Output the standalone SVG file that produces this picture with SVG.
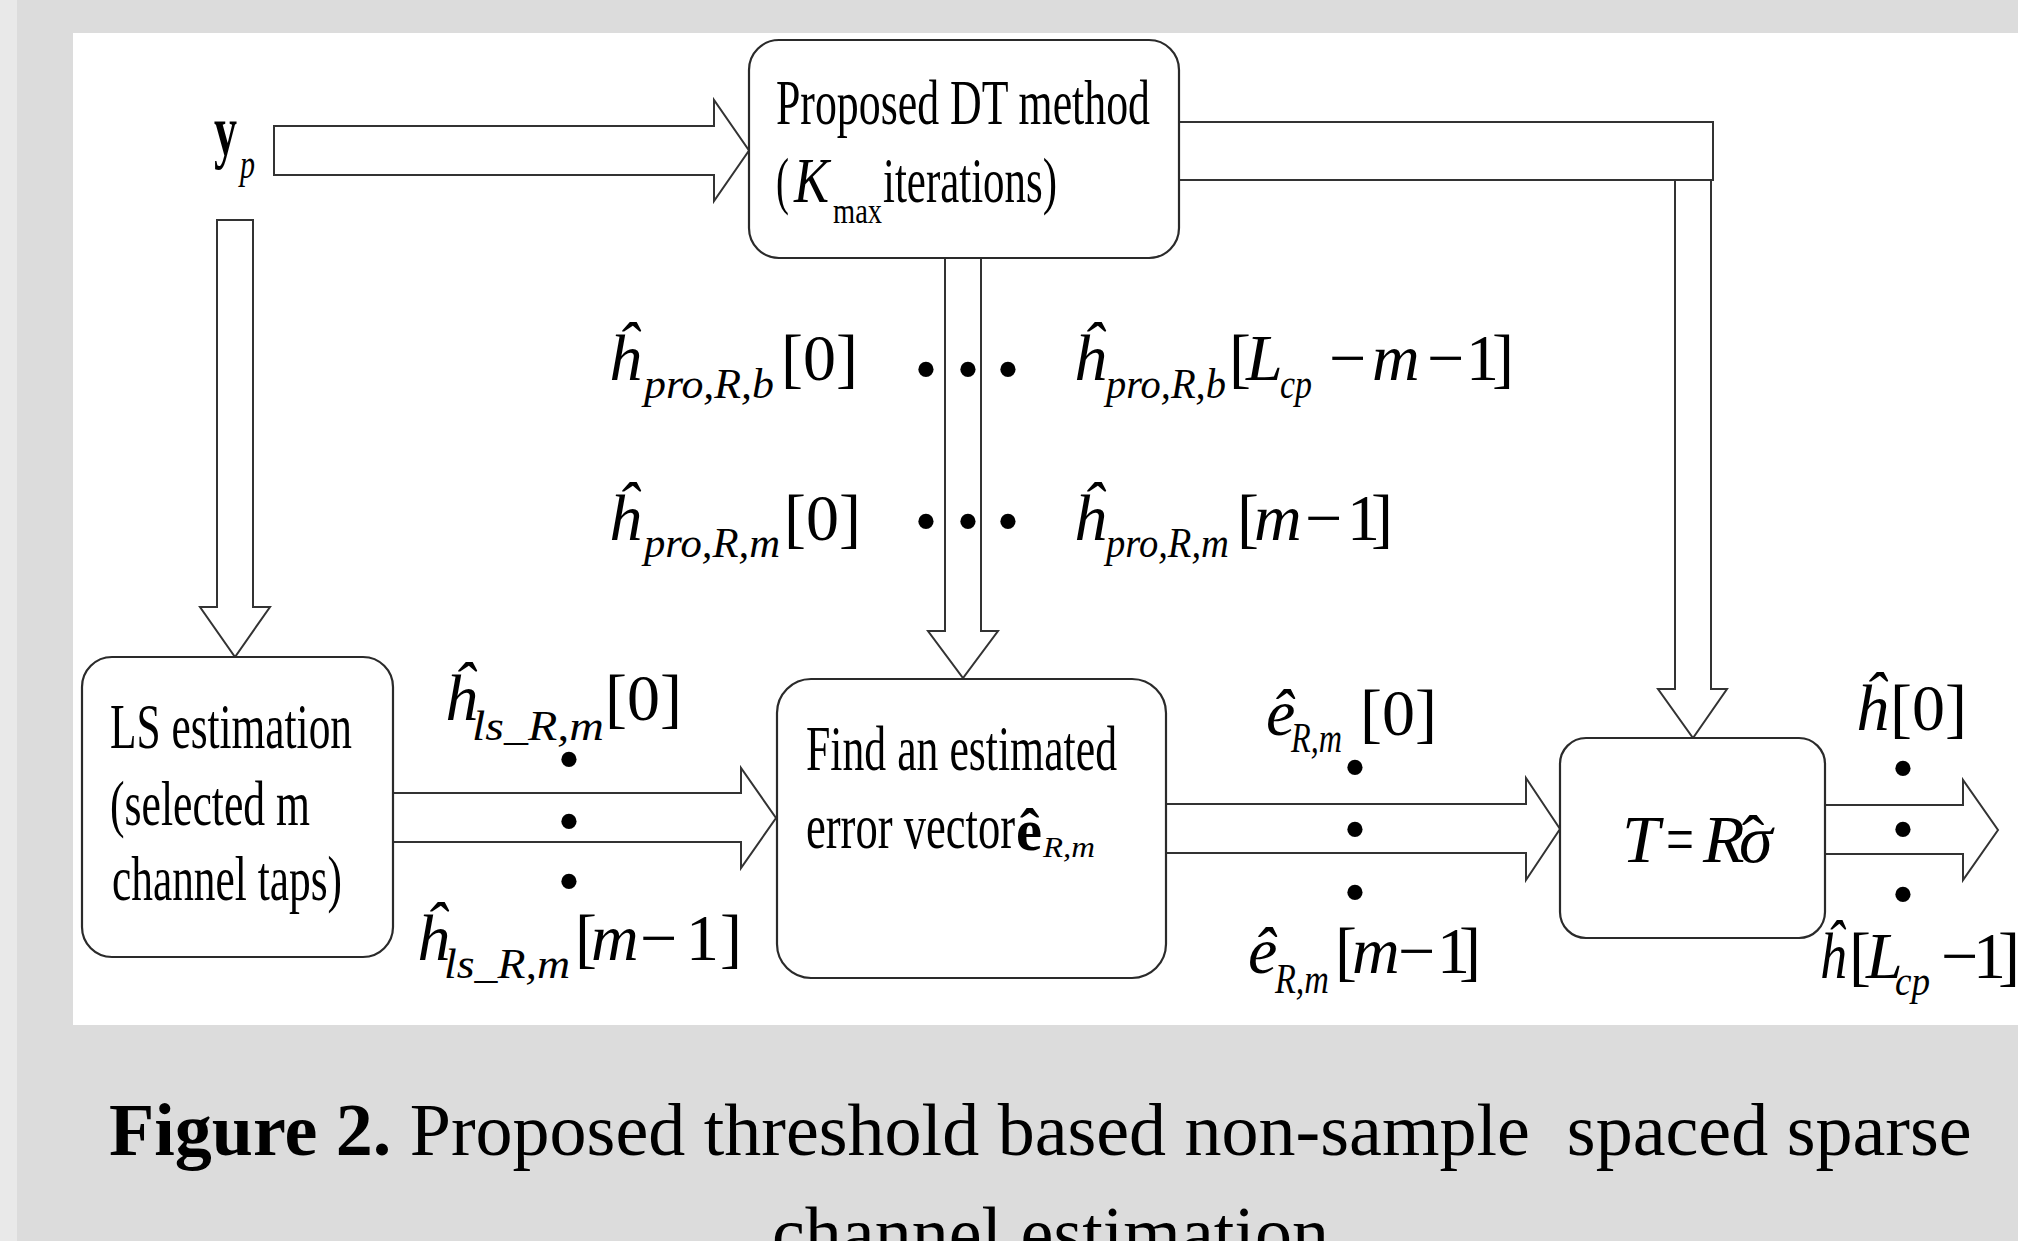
<svg xmlns="http://www.w3.org/2000/svg" width="2018" height="1241" viewBox="0 0 2018 1241">
<style>
.box{fill:#fff;stroke:#2a2a2a;stroke-width:2.2}
.arr{fill:#fff;stroke:#333;stroke-width:2}
.t{font-family:"Liberation Serif","Times New Roman",serif;fill:#000}
.it{font-style:italic}
.m{font-size:66px}
.s{font-size:42px}
.lb{font-size:63px}
.dot{font-size:64px;text-anchor:middle}
.cap{font-size:74px}
</style>
<rect x="0" y="0" width="2018" height="1241" fill="#dcdcdc"/>
<rect x="0" y="0" width="17" height="1241" fill="#e9e9e9"/>
<rect x="73" y="33" width="1945" height="992" fill="#fff"/>

<g id="connectors">
  <polygon class="arr" points="274,126 714,126 714,100 749,150.5 714,201 714,175 274,175"/>
  <polygon class="arr" points="217,220 253,220 253,607 270,607 235,657 200,607 217,607"/>
  <polygon class="arr" points="945,258 981,258 981,631 998,631 963,678 928,631 945,631"/>
  <rect class="arr" x="1179" y="122" width="534" height="58"/>
  <polygon class="arr" points="1675,180 1711,180 1711,689 1727,689 1693,738 1658,689 1675,689"/>
  <polygon class="arr" points="392,793 741,793 741,768 776,818 741,868 741,842 392,842"/>
  <polygon class="arr" points="1166,804 1526,804 1526,778 1560,829 1526,880 1526,853 1166,853"/>
  <polygon class="arr" points="1825,805 1963,805 1963,780 1998,830 1963,880 1963,854 1825,854"/>
</g>

<g id="node-dt">
  <rect class="box" x="749" y="40" width="430" height="218" rx="30"/>
  <text class="t lb" x="776" y="124" textLength="374" lengthAdjust="spacingAndGlyphs">Proposed DT method</text>
  <text class="t lb" x="776" y="202" textLength="13" lengthAdjust="spacingAndGlyphs">(</text>
  <text class="t lb it" x="794" y="202" textLength="35" lengthAdjust="spacingAndGlyphs">K</text>
  <text class="t" font-size="36" x="833" y="223" textLength="49" lengthAdjust="spacingAndGlyphs">max</text>
  <text class="t lb" x="883" y="202" textLength="174" lengthAdjust="spacingAndGlyphs">iterations)</text>
</g>

<g id="node-ls">
  <rect class="box" x="82" y="657" width="311" height="300" rx="30"/>
  <text class="t lb" x="110" y="748" textLength="242" lengthAdjust="spacingAndGlyphs">LS estimation</text>
  <text class="t lb" x="110" y="825" textLength="200" lengthAdjust="spacingAndGlyphs">(selected m</text>
  <text class="t lb" x="112" y="900" textLength="230" lengthAdjust="spacingAndGlyphs">channel taps)</text>
</g>

<g id="node-find">
  <rect class="box" x="777" y="679" width="389" height="299" rx="34"/>
  <text class="t lb" x="806" y="770" textLength="311" lengthAdjust="spacingAndGlyphs">Find an estimated</text>
  <text class="t lb" x="806" y="848" textLength="209" lengthAdjust="spacingAndGlyphs">error vector</text>
  <text class="t" font-size="60" font-weight="bold" x="1016" y="850" textLength="26" lengthAdjust="spacingAndGlyphs">ê</text>
  <text class="t it" font-size="30" x="1043" y="857" textLength="52" lengthAdjust="spacingAndGlyphs">R,m</text>
</g>

<g id="node-t">
  <rect class="box" x="1560" y="738" width="265" height="200" rx="26"/>
  <text class="t it" font-size="68" x="1622" y="862">T</text>
  <text class="t" font-size="68" x="1666" y="862" textLength="28" lengthAdjust="spacingAndGlyphs">=</text>
  <text class="t it" font-size="68" x="1703" y="862">R</text>
  <text class="t it" font-size="68" x="1739" y="862">σ</text>
  <text class="t" font-size="68" x="1753" y="862" text-anchor="middle">ˆ</text>
</g>

<g id="label-yp">
  <text class="t" font-size="72" font-weight="bold" x="214" y="155" textLength="23" lengthAdjust="spacingAndGlyphs">y</text>
  <text class="t it" font-size="43" x="240" y="178" textLength="15" lengthAdjust="spacingAndGlyphs">p</text>
</g>

<g id="label-hpro-b">
  <text class="t m it" x="608" y="380">ĥ</text>
  <text class="t s it" x="644" y="398" textLength="130" lengthAdjust="spacingAndGlyphs">pro,R,b</text>
  <text class="t m" x="781" y="380">[0]</text>
  <text class="t dot" x="926" y="391">•</text>
  <text class="t dot" x="968" y="391">•</text>
  <text class="t dot" x="1008" y="391">•</text>
  <text class="t m it" x="1073" y="380">ĥ</text>
  <text class="t s it" x="1106" y="398" textLength="120" lengthAdjust="spacingAndGlyphs">pro,R,b</text>
  <text class="t m" x="1229" y="380">[</text>
  <text class="t m it" x="1246" y="380">L</text>
  <text class="t s it" x="1280" y="398" textLength="32" lengthAdjust="spacingAndGlyphs">cp</text>
  <text class="t m" x="1329" y="380">−</text>
  <text class="t m it" x="1372" y="380">m</text>
  <text class="t m" x="1427" y="380">−</text>
  <text class="t m" x="1466" y="380">1</text>
  <text class="t m" x="1492" y="380">]</text>
</g>

<g id="label-hpro-m">
  <text class="t m it" x="608" y="540">ĥ</text>
  <text class="t s it" x="644" y="557" textLength="136" lengthAdjust="spacingAndGlyphs">pro,R,m</text>
  <text class="t m" x="784" y="540">[0]</text>
  <text class="t dot" x="926" y="543">•</text>
  <text class="t dot" x="968" y="543">•</text>
  <text class="t dot" x="1008" y="543">•</text>
  <text class="t m it" x="1073" y="540">ĥ</text>
  <text class="t s it" x="1106" y="557" textLength="123" lengthAdjust="spacingAndGlyphs">pro,R,m</text>
  <text class="t m" x="1237" y="540">[</text>
  <text class="t m it" x="1254" y="540">m</text>
  <text class="t m" x="1305" y="540">−</text>
  <text class="t m" x="1347" y="540">1</text>
  <text class="t m" x="1371" y="540">]</text>
</g>

<g id="label-hls">
  <text class="t m it" x="444" y="720">ĥ</text>
  <text class="t s it" x="472" y="740" textLength="132" lengthAdjust="spacingAndGlyphs">ls_R,m</text>
  <text class="t m" x="605" y="720">[0]</text>
  <text class="t dot" x="569" y="781">•</text>
  <text class="t dot" x="569" y="843">•</text>
  <text class="t dot" x="569" y="903">•</text>
  <text class="t m it" x="416" y="960">ĥ</text>
  <text class="t s it" x="444" y="978" textLength="126" lengthAdjust="spacingAndGlyphs">ls_R,m</text>
  <text class="t m" x="575" y="960">[</text>
  <text class="t m it" x="591" y="960">m</text>
  <text class="t m" x="640" y="960">−</text>
  <text class="t m" x="686" y="960">1</text>
  <text class="t m" x="720" y="960">]</text>
</g>

<g id="label-e">
  <text class="t m it" x="1266" y="735">ê</text>
  <text class="t s it" x="1291" y="752" textLength="51" lengthAdjust="spacingAndGlyphs">R,m</text>
  <text class="t m" x="1360" y="735">[0]</text>
  <text class="t dot" x="1355" y="789">•</text>
  <text class="t dot" x="1355" y="851">•</text>
  <text class="t dot" x="1355" y="914">•</text>
  <text class="t m it" x="1248" y="973">ê</text>
  <text class="t s it" x="1275" y="993" textLength="54" lengthAdjust="spacingAndGlyphs">R,m</text>
  <text class="t m" x="1335" y="973">[</text>
  <text class="t m it" x="1352" y="973">m</text>
  <text class="t m" x="1398" y="973">−</text>
  <text class="t m" x="1437" y="973">1</text>
  <text class="t m" x="1459" y="973">]</text>
</g>

<g id="label-h">
  <text class="t m it" x="1855" y="730">ĥ</text>
  <text class="t m" x="1890" y="730">[0]</text>
  <text class="t dot" x="1903" y="790">•</text>
  <text class="t dot" x="1903" y="851">•</text>
  <text class="t dot" x="1903" y="916">•</text>
  <text class="t m it" x="1819" y="978" textLength="27" lengthAdjust="spacingAndGlyphs">ĥ</text>
  <text class="t m" x="1849" y="978">[</text>
  <text class="t m it" x="1866" y="978">L</text>
  <text class="t s it" x="1895" y="995" textLength="35" lengthAdjust="spacingAndGlyphs">cp</text>
  <text class="t m" x="1941" y="978">−</text>
  <text class="t m" x="1973" y="978">1</text>
  <text class="t m" x="1998" y="978">]</text>
</g>

<g id="caption">
  <text class="t cap" x="109" y="1155" xml:space="preserve"><tspan font-weight="bold">Figure 2.</tspan> Proposed threshold based non-sample  spaced sparse</text>
  <text class="t cap" x="772" y="1258">channel estimation</text>
</g>
</svg>
